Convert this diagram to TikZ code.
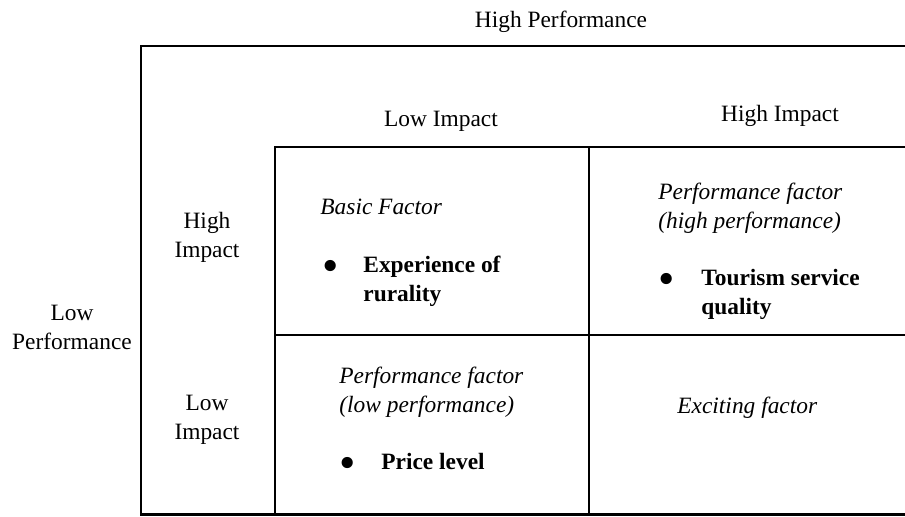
\documentclass[tikz,border=0pt]{standalone}
\usepackage{fontspec}
\usepackage{graphicx}
\setmainfont{Liberation Serif}
\usetikzlibrary{positioning,calc}

\newcommand{\bigbullet}{\raisebox{-4.5pt}{\scalebox{2}{\normalfont\textbullet}}}

\begin{document}
\begin{tikzpicture}[x=0.5pt, y=-0.5pt,
	grid/.style={line width=1.2pt, line cap=rect},
	lbl/.style={inner sep=0pt, anchor=base, font=\fontsize{11.7pt}{14.5pt}\selectfont},
	cell/.style={inner sep=0pt, anchor=base west, font=\fontsize{11.7pt}{14.5pt}\selectfont\itshape},
	item/.style={inner sep=0pt, anchor=base west, font=\fontsize{11.7pt}{14.5pt}\selectfont\bfseries}]

    \useasboundingbox (0,0) rectangle (905,516);

    % frame and grid
    \coordinate (outerNW) at (141,46);
    \coordinate (innerNW) at (275,147);
    \coordinate (midN) at (589,147);
    \coordinate (midW) at (275,335);
    \draw [grid] (905,46) -- (outerNW) -- (141,514.5) -- (905,514.5);
    \draw [grid] (905,147) -- (innerNW) -- (275,514.5);
    \draw [grid] (midN) -- (589,514.5);
    \draw [grid] (midW) -- (905,335);

    % axis labels
    \node (HighPerf) at (561,27) [lbl] {High Performance};
    \node (LowPerf) at (72,320) [lbl] {\begin{tabular}[t]{@{}c@{}}Low\\ Performance\end{tabular}};
    \node (TopLowImp) at (441,126) [lbl] {Low Impact};
    \node (TopHighImp) at (780,121) [lbl] {High Impact};
    \node (SideHighImp) at (207,228) [lbl] {\begin{tabular}[t]{@{}c@{}}High\\ Impact\end{tabular}};
    \node (SideLowImp) at (207,410) [lbl] {\begin{tabular}[t]{@{}c@{}}Low\\ Impact\end{tabular}};

    % quadrants
    \node (Basic) at (320,214) [cell] {Basic Factor};
    \node (BasicItem) at (322,272) [item] {\begin{tabular}[t]{@{}p{20.5pt}@{}l@{}}\bigbullet & Experience of\\ & rurality\end{tabular}};

    \node (PerfHigh) at (658,199) [cell] {\begin{tabular}[t]{@{}l@{}}Performance factor\\ (high performance)\end{tabular}};
    \node (PerfHighItem) at (658,285) [item] {\begin{tabular}[t]{@{}p{21.5pt}@{}l@{}}\bigbullet & Tourism service\\ & quality\end{tabular}};

    \node (PerfLow) at (339,383) [cell] {\begin{tabular}[t]{@{}l@{}}Performance factor\\ (low performance)\end{tabular}};
    \node (PerfLowItem) at (339,469) [item] {\begin{tabular}[t]{@{}p{21pt}@{}l@{}}\bigbullet & Price level\end{tabular}};

    \node (Exciting) at (677,413) [cell] {Exciting factor};

\end{tikzpicture}
\end{document}
